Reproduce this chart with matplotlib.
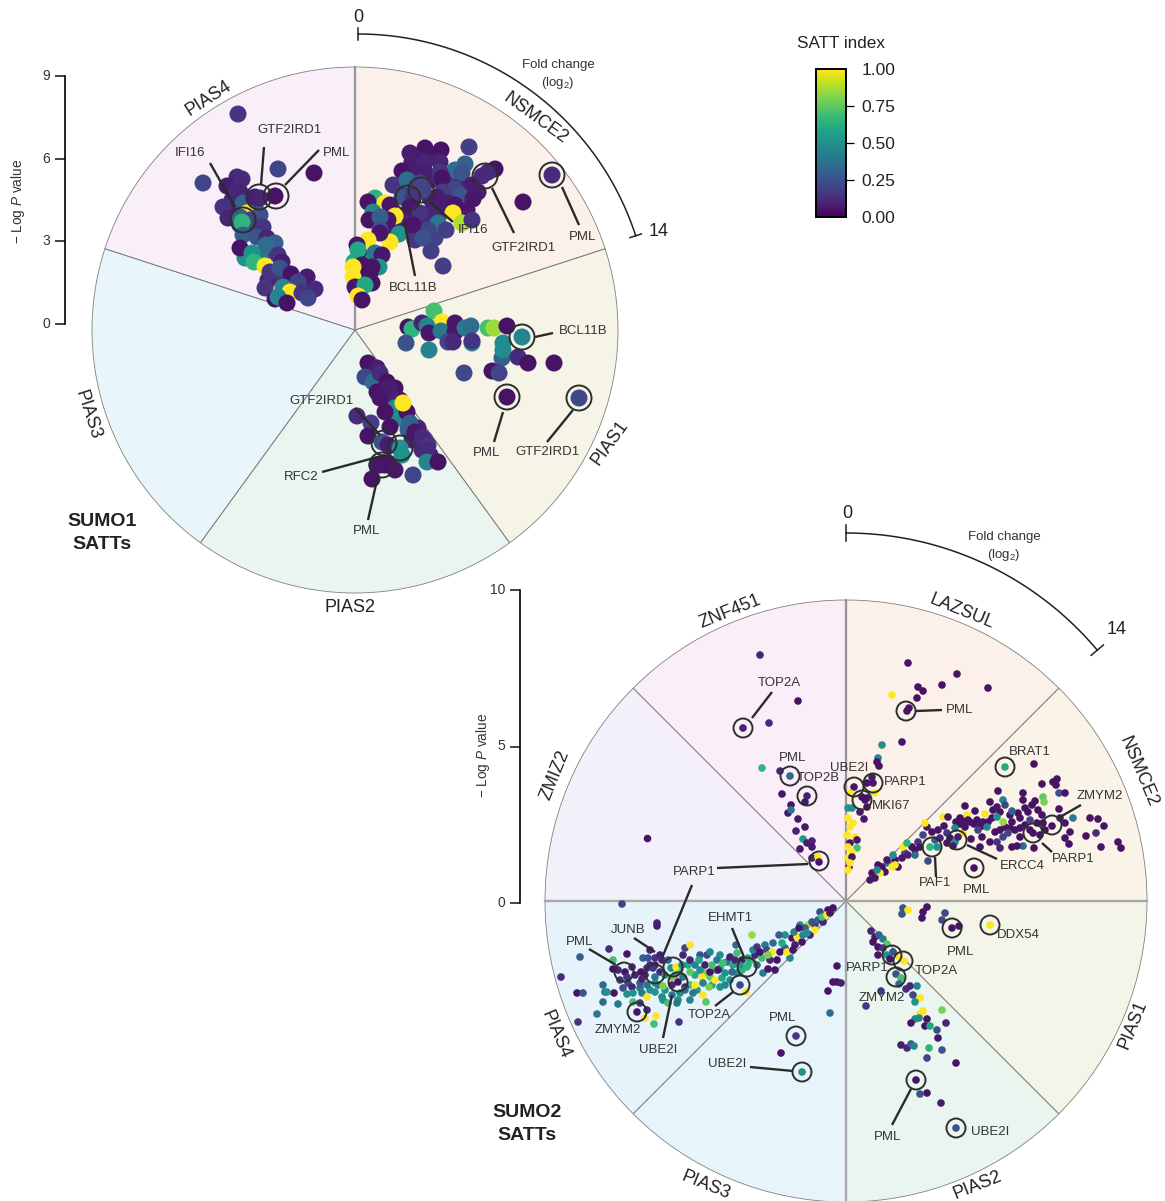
import numpy as np
import matplotlib
matplotlib.use('Agg')
import matplotlib.pyplot as plt
from matplotlib.patches import Wedge, Circle
from matplotlib.cm import ScalarMappable
from matplotlib.colors import Normalize

plt.rcParams['font.family'] = ['Liberation Sans', 'DejaVu Sans']
plt.rcParams['mathtext.fontset'] = 'custom'
plt.rcParams['mathtext.it'] = 'Liberation Sans:italic'
plt.rcParams['mathtext.rm'] = 'Liberation Sans'

# points are (x, y, SATT index) in its own pixel grid
sumo1_pias4 = [(232,200,.1),(248,200,.3),(255,207,.2),(235,212,.08),(252,230,.25),(240,225,.3),(272,250,.35),(262,255,.2),
    (245,258,.5),(260,258,.4),(275,275,.15),(288,283,.1),(300,287,.1),(268,280,.1),
    (238,114,.15),(203,183,.2),(278,169,.2),(314,173,.05),(237,177,.12),(242,179,.12),(227,186,.08),
    (237,190,.12),(240,192,.1),(223,207,.15),(228,218,.1),(243,203,.3),(255,197,.08),(260,198,.1),(275,196,.05),
    (247,213,1),(260,215,.25),(240,217,.3),(250,220,.2),(242,222,.65),(263,227,.15),(243,235,.3),(257,237,.25),
    (267,238,.1),(240,248,.05),(275,243,.3),(266,245,.35),(278,255,.15),(252,253,.5),(254,262,.65),(282,262,.08),
    (265,266,1),(270,272,.15),(280,268,.25),(291,274,.05),(307,277,.08),(298,282,.2),(265,288,.15),(315,289,.12),
    (283,287,.45),(290,292,1),(302,293,.15),(308,298,.2),(275,299,.05),(278,297,.45),(287,303,.05)]
sumo1_nsmce2 = [(430,155,.08),(415,170,.08),(432,180,.12),(447,180,.12),(452,180,.15),(400,188,.1),(412,190,.1),(430,198,.1),
    (445,200,.1),(462,185,.1),(470,192,.08),(478,192,.08),(432,210,.1),(442,212,.08),(405,215,.1),(430,222,.12),
    (418,222,.12),(437,215,.1),(405,230,.08),(393,228,.08),(415,240,.15),(435,238,.2),(358,258,.05),(365,258,.05),
    (373,260,.5),(354,262,.6),(355,272,.05),(365,275,1),(360,280,.05),(372,283,.05),(357,290,1),
    (469,147,.18),(410,153,.08),(425,148,.05),(441,150,.05),(418,160,.08),(412,162,.08),(425,162,.1),
    (440,162,.1),(465,164,.3),(455,170,.35),(462,173,.25),(495,169,.05),(488,172,.12),(482,176,.12),(402,171,.05),
    (425,172,.08),(440,172,.15),(442,178,.05),(393,185,.15),(407,180,.35),(420,183,.2),(472,185,.08),(455,189,.2),
    (460,195,.25),(443,192,.18),(437,197,.08),(423,190,.2),(402,197,.25),(413,197,.15),(473,199,.06),(375,198,.65),
    (368,202,.05),(385,203,1),(390,205,.06),(373,212,.45),(410,207,.06),(447,203,.08),(455,205,.06),(467,210,.06),
    (420,213,.15),(453,213,1),(395,216,1),(388,220,.06),(369,220,.05),(380,217,.3),(462,223,.88),(472,220,.15),
    (523,202,.05),(438,223,.4),(446,230,.18),(428,230,.2),(413,225,.06),(423,238,.25),(380,230,.25),(399,234,.5),
    (390,242,1),(380,233,.06),(368,240,1),(357,245,.06),(375,253,.4),(358,250,.6),(382,255,.06),(431,251,.18),
    (443,266,.18),(379,267,.5),(362,265,.05),(353,267,1),(372,267,.05),(353,277,1),(370,273,.05),(355,287,.06),
    (365,285,.6),(358,296,1),(362,300,.05),(552,175,.12)]
sumo1_pias1 = [(434,311,.7),(442,322,1),(408,327,.05),(412,329,.65),(422,323,.1),(427,326,.45),(429,333,.06),
    (441,331,.4),(455,323,.06),(455,332,.06),(465,328,.4),(471,326,.35),(472,343,.45),(472,341,.15),(448,342,.2),
    (453,342,.12),(406,343,.25),(429,350,.45),(488,328,.7),(494,328,.85),(507,326,.05),(522,337,.45),(502,358,.3),
    (503,343,.48),(503,350,.48),(518,357,.12),(528,363,.05),(554,363,.05),(464,373,.22),(492,371,.05),(499,373,.2),
    (507,397,.05),(579,398,.22)]
sumo1_pias2 = [(372,372,.06),(384,387,.06),(395,395,.1),(400,400,.05),(392,405,.05),(405,420,.08),(413,430,.08),(418,440,.1),
    (422,450,.12),(430,455,.08),(425,440,.2),(395,388,.05),(376,380,.06),(385,398,.05),(398,418,.45),(408,430,.3),
    (412,440,.1),(418,428,.1),(380,465,.05),(388,463,.05),(392,465,.05),
    (368,363,.05),(377,368,.08),(365,377,.22),(373,382,.35),(380,373,.12),(387,382,.05),(377,392,.05),
    (390,395,.1),(389,387,.08),(380,398,.06),(395,408,.5),(407,412,.05),(403,403,1),(385,412,.05),(357,416,.12),
    (371,423,.18),(390,427,.05),(410,423,.3),(415,432,.06),(368,436,.05),(422,437,.12),(428,445,.15),(427,450,.12),
    (382,442,.25),(388,445,.08),(400,448,.5),(402,455,.5),(427,462,.45),(438,462,.05),(385,465,.05),(377,465,.06),
    (395,470,.06),(413,475,.2),(372,479,.05)]

sumo2_znf451 = [(760,655,.1),(798,701,.05),(769,723,.12),(743,728,.1),(762,768,.65),(780,771,.1),(790,776,.32),
    (782,794,.06),(807,796,.1),(805,802,.06),(791,805,.06),(788,813,.06),(791,810,.4),(798,819,.06),(805,827,.06),
    (796,831,.1),(803,839,.55),(807,843,.08),(812,841,.1),(812,847,.06),(800,849,.06),(812,858,.1),(818,857,1),
    (819,862,.06)]
sumo2_zmiz2 = [(647,838,.05)]
sumo2_lazsul = [(908,663,.05),(957,674,.05),(988,688,.05),(918,687,.05),(923,691,.05),(942,685,.05),(892,695,1),
    (917,698,.05),(909,708,.05),(907,711,.05),(882,745,.5),(902,742,.05),(878,758,.45),(877,762,.05),(879,766,.05),
    (872,777,.08),(867,783,.06),(873,783,.06),(854,787,.06),(875,793,1),(850,793,1),(865,800,.05),(862,797,.05),
    (867,798,.05),(867,807,.05),(860,812,.06),(864,819,.06),(848,808,.5),(852,808,.5),(848,818,1),(853,823,1),
    (850,827,1),(847,835,1),(855,837,1),(857,840,.06),(850,843,.06),(857,848,.7),(848,847,1),(852,852,1),
    (848,858,1),(852,857,.06),(849,867,.06),(850,863,1),(848,870,1)]
sumo2_nsmce2 = [(956,822,.05),(960,824,.05),(965,821,.05),(970,822,.05),(974,824,.05),(978,823,.05),(982,826,.05),(988,822,.05),
    (992,818,.05),(1000,830,.05),(1005,827,.05),(1010,828,.05),(1015,830,.05),(1025,825,.05),(1020,828,.05),
    (1028,812,.05),(1018,813,.05),(1010,815,.05),(1000,812,.05),(993,810,.05),(1030,830,.05),(1040,835,.05),
    (1045,830,.05),(1042,815,.05),(1038,810,.05),(950,838,.05),(944,826,.05),(932,832,.05),(918,842,.15),
    (912,847,.05),(905,853,.2),(895,860,.05),(888,863,.4),(885,872,.05),(872,873,.05),(878,865,.05),
    (1005,767,.6),(1034,764,.05),(1042,784,.05),(1053,782,.05),(1057,779,.05),(1056,785,.05),(998,791,.06),
    (1023,793,.05),(1059,793,.25),(1065,793,.05),(1043,797,.75),(1044,802,.8),(1003,800,.45),(990,802,.05),
    (1023,800,.05),(1035,801,.05),(965,806,.05),(997,807,.06),(1005,805,.2),(1012,811,.3),(1032,805,.05),
    (1025,808,.05),(1059,809,.05),(1073,818,.4),(1090,818,.05),(1098,819,.05),(1104,826,.05),(975,811,.05),
    (967,815,1),(985,814,1),(943,817,1),(948,817,.05),(960,818,.05),(968,820,.05),(977,820,.05),(983,822,.05),
    (997,817,.5),(1003,822,.85),(1012,822,.05),(1020,818,.05),(1030,820,.2),(1037,823,.05),(1043,823,.05),
    (1052,826,.05),(1060,818,.06),(1065,823,.06),(1070,832,.05),(1065,838,.05),(1069,844,.05),(1086,836,.05),
    (1096,833,.12),(1101,847,.05),(1118,842,.05),(1121,848,.05),(1034,848,.05),(1023,846,.35),(1017,846,.05),
    (1012,847,.05),(1033,833,.05),(1020,837,.05),(1008,833,.2),(1003,837,.2),(997,842,.15),(1000,848,.1),
    (995,832,.05),(990,842,.05),(980,847,.05),(982,837,.05),(971,839,.05),(963,833,1),(955,842,.5),(958,837,.08),
    (947,843,.06),(953,846,.06),(978,830,.2),(987,827,.45),(955,828,.45),(965,827,.05),(938,830,.05),(927,827,.06),
    (925,823,1),(923,835,.2),(947,833,.15),(937,847,.5),(930,847,.65),(935,840,.3),(928,861,.22),(940,838,.1),
    (920,847,.05),(915,850,.05),(903,847,1),(907,843,.65),(908,855,.1),(915,855,.35),(902,858,.06),(893,855,.5),
    (898,867,.05),(892,867,1),(895,865,1),(882,867,.05),(887,860,.06),(880,873,1),(877,870,.45),(875,878,.06),
    (870,880,.06),(974,868,.05)]
sumo2_pias1 = [(903,908,.25),(902,914,.25),(908,910,1),(927,907,.05),(923,912,.05),(922,918,.05),(945,913,.22),
    (942,920,.22),(952,928,.05),(959,926,.05),(990,925,1)]
sumo2_pias2 = [(871,931,.1),(875,937,.06),(879,935,.3),(883,939,.4),(873,942,.05),(878,947,.05),(887,944,.75),
    (883,948,.15),(878,955,.06),(893,952,.25),(887,955,.5),(890,959,.05),(899,957,1),(904,961,1),(896,974,.25),
    (901,978,.7),(899,984,.35),(917,986,.45),(910,986,.1),(906,989,.12),(881,991,.15),(866,1006,.15),(913,995,.22),
    (920,998,1),(915,1002,.5),(942,1010,.8),(923,1011,1),(920,1014,1),(927,1019,.05),(919,1018,.45),(915,1019,.45),
    (911,1023,.05),(946,1023,.1),(925,1026,.05),(930,1026,.6),(937,1030,.25),(938,1038,.05),(901,1045,.08),
    (907,1048,.1),(911,1044,.3),(914,1046,.45),(929,1048,.65),(942,1050,.25),(927,1058,.2),(956,1063,.05),
    (916,1080,.05),(927,1093,.05),(920,1094,.25),(941,1103,.08),(956,1128,.25)]
sumo2_pias3 = [(837,966,.05),(833,982,.05),(837,982,.05),(841,983,.08),(828,991,.05),(830,1013,.35),(796,1036,.15),
    (781,1053,.05),(802,1072,.5)]
sumo2_pias4 = [(622,904,.2),(657,923,.1),(657,926,.08),(561,977,.12),(580,957,.3),(609,949,.12),(627,954,.05),
    (577,993,.05),(583,993,.25),(603,985,.35),(605,992,.4),(614,993,.05),(603,1002,.35),(618,1004,.4),(597,1014,.4),
    (578,1022,.15),(679,1022,.15),(656,1016,1),(654,1024,.7),(645,1018,1),(647,1010,.12),(637,1012,.05),
    (650,965,.1),(660,972,.1),(665,975,.5),(675,975,.7),(680,970,.7),(688,965,.6),(695,965,.45),(695,975,.6),(705,973,.8),
    (715,970,.7),(720,968,.6),(727,962,.4),(733,965,.6),(737,973,.5),(742,970,.65),(752,960,.7),(755,955,.1),
    (658,985,.4),(665,990,.5),(672,977,.8),(690,985,.7),(697,990,.5),(712,985,.6),(725,985,.45),(730,980,.5),
    (735,960,.1),(650,990,.5),(640,988,.4),(628,983,.2),(620,980,.15),(618,970,.1),(635,975,.1),(645,975,.08),
    (655,965,.1),(678,1000,.5),(690,1000,.45),(770,960,.1),(765,945,.4),(785,948,.3),(795,945,.08),(790,958,.45),
    (775,970,.05),(800,925,.5),(808,925,.9),(815,925,.15),(820,912,.2),(828,910,.05),(833,908,.05),(785,935,.5),
    (623,988,.25),(632,987,.1),(640,983,.3),(647,985,.4),(655,983,.5),(663,986,.8),(672,985,.1),(685,987,.1),
    (695,985,1),(702,977,1),(703,983,.45),(710,977,.75),(715,980,1),(722,978,.6),(725,973,.5),(732,972,.35),
    (718,970,.05),(710,972,.05),(700,970,.5),(690,972,.75),(683,977,.4),(693,993,.4),(703,995,1),(706,1002,.75),
    (709,987,.8),(720,987,.5),(662,997,.45),(663,1000,.5),(655,992,.5),(633,993,.5),(627,994,.5),(642,993,.4),
    (647,997,1),(668,1003,.7),(677,1003,.4),(672,995,.4),(680,993,.5),(685,990,.35),(746,992,1),(655,977,.4),
    (640,1003,.15),(633,1002,.7),(607,992,.5),(613,960,.7),(613,969,.05),(625,972,.05),(627,977,.15),(632,967,.1),
    (641,972,.05),(642,979,.1),(643,958,.3),(648,958,.25),(650,950,.08),(655,958,.15),(660,955,.08),(647,968,.12),
    (653,968,.15),(662,960,.1),(668,960,.3),(671,968,.5),(676,967,1),(683,955,.1),(685,948,.2),(690,945,1),
    (682,965,.5),(690,960,.1),(700,955,.25),(707,955,.2),(710,952,.45),(699,960,.6),(705,965,.08),(712,965,.7),
    (720,955,.5),(717,960,.4),(723,963,.7),(730,957,.08),(736,945,.35),(737,953,.7),(742,960,.05),(752,935,.85),
    (753,950,.45),(757,947,.15),(748,958,.6),(740,965,.5),(748,965,.65),(747,967,.65),(762,958,.7),(760,952,.05),
    (767,950,.2),(772,952,1),(773,943,.35),(782,943,.6),(779,935,.3),(768,955,.8),(763,973,.4),(757,965,.35),
    (768,969,.05),(777,960,.05),(780,952,.05),(787,952,1),(793,950,.05),(792,938,.05),(797,937,1),(794,932,.45),
    (802,942,.05),(803,935,.45),(805,928,.3),(810,935,.1),(815,930,1),(812,922,.25),(818,920,.3),(823,922,.1),
    (822,917,.7),(827,915,1),(830,913,.05),(799,928,.05),(807,933,.5),(740,985,.2),(678,982,.05)]

# wheels: names go clockwise starting from straight up
sumo1_sectors = ['NSMCE2', 'PIAS1', 'PIAS2', 'PIAS3', 'PIAS4']
sumo1_colors = ['#fcf0ea', '#f6f4e7', '#e9f5ee', '#e8f5fb', '#f9eff8']
sumo2_sectors = ['LAZSUL', 'NSMCE2', 'PIAS1', 'PIAS2', 'PIAS3', 'PIAS4', 'ZMIZ2', 'ZNF451']
sumo2_colors = ['#fcf0ea', '#faf3e8', '#f4f5e8', '#e9f5ee', '#e7f5fb', '#e6f3fb', '#f3f0f9', '#faeff9']

sumo1_ticks = [0, 3, 6, 9]
sumo2_ticks = [0, 5, 10]
fold_ticks = [0, 14]
satt_ticks = [0, 0.25, 0.5, 0.75, 1]

# labels: text, x, y of text, then callout line (or None)
sumo1_labels = [('IFI16',190,153,(210,163,235,207)),('GTF2IRD1',290,130,(264,147,261,185)),('PML',337,153,(319,150,285,185)),
    ('GTF2IRD1',523,248,(492,188,514,233)),('PML',583,237,(562,187,579,225)),('IFI16',473,230,(430,202,453,222)),
    ('BCL11B',413,288,(404,220,415,276)),('BCL11B',583,331,(535,337,553,333)),('PML',487,453,(503,412,494,442)),
    ('GTF2IRD1',547,452,(573,410,547,442)),('GTF2IRD1',322,401,(355,408,380,435)),('RFC2',301,477,(322,472,385,455)),
    ('PML',367,531,(377,480,368,520))]
sumo1_rings = [(243,220),(259,197),(276,196),(485,176),(408,198),(421,190),(552,175),(522,337),(507,397),(579,398),
    (400,448),(384,443),(382,465)]
sumo2_labels = [('TOP2A',779,683,(772,692,752,718)),('PML',793,758,None),('TOP2B',818,778,None),('UBE2I',849,768,None),
    ('PARP1',905,782,None),('MKI67',891,806,None),('PML',960,710,(916,711,942,710)),('BRAT1',1030,752,None),
    ('ZMYM2',1100,796,(1060,817,1081,805)),('PARP1',1073,859,(1042,843,1052,852)),('ERCC4',1022,866,(967,845,997,859)),
    ('PAF1',935,883,(935,857,936,877)),('PML',977,890,None),('PARP1',694,872,(717,868,808,864)),('DDX54',1018,935,None),
    ('PML',961,952,None),('PARP1',867,968,None),('TOP2A',936,971,None),('ZMYM2',882,998,None),('PML',888,1137,(911,1089,892,1125)),
    ('UBE2I',990,1132,None),('PML',783,1018,None),('UBE2I',727,1064,(750,1067,793,1071)),('PML',580,942,(589,949,616,965)),
    ('JUNB',628,930,(634,938,655,952)),('EHMT1',730,918,(732,928,744,957)),('TOP2A',709,1015,(715,1006,733,992)),
    ('ZMYM2',618,1030,None),('UBE2I',658,1050,(663,1038,672,995))]
sumo2_extra_lines = [(692,885,662,958)]
sumo2_rings = [(743,728),(790,776),(807,796),(819,861),(906,711),(854,787),(873,783),(862,800),(1005,767),(1052,825),
    (1033,833),(957,840),(932,847),(974,868),(952,928),(990,925),(892,955),(903,961),(896,977),(916,1080),(956,1128),
    (796,1036),(802,1072),(624,972),(655,974),(673,967),(678,982),(637,1012),(747,967),(740,985)]

W, H = 1165, 1201
fig = plt.figure(figsize=(W / 100, H / 100), dpi=100)
ax = fig.add_axes([0, 0, 1, 1])
ax.set_xlim(0, W)
ax.set_ylim(H, 0)
ax.axis('off')


def draw_wheel(cx, cy, radius, names, colors, strong):
    # y axis is flipped, so theta runs clockwise on screen and 270 is straight up
    step = 360 / len(names)
    for i, name in enumerate(names):
        t0 = 270 + i * step
        ax.add_patch(Wedge((cx, cy), radius, t0, t0 + step, fc=colors[i], ec='none', zorder=1))
        ax.add_patch(Wedge((cx, cy), radius, t0, t0 + step, fc='none', ec='#808080', lw=0.6, zorder=2))
        a = np.deg2rad(t0)
        if (abs(np.sin(a)) > 0.99 and np.sin(a) < 0) or (strong == 2 and (abs(np.sin(a)) > 0.99 or abs(np.cos(a)) > 0.99)):
            ax.plot([cx, cx + radius * np.cos(a)], [cy, cy + radius * np.sin(a)],
                    color='#a8a8a8', lw=1.7, zorder=2)


def draw_points(groups, size):
    for pts in groups:
        x, y, s = np.array(pts).T
        ax.scatter(x, y, c=s, s=size, cmap='viridis', vmin=0, vmax=1, linewidths=0, zorder=3)


def draw_rings(rings, r):
    for x, y in rings:
        ax.add_patch(Circle((x, y), r, fc='none', ec='#2e2e2e', lw=1.4, zorder=4))


def draw_labels(labels, fs):
    for name, x, y, line in labels:
        ax.text(x, y, name, fontsize=fs, color='#333333', ha='center', va='center', zorder=6)
        if line is not None:
            ax.plot(line[0::2], line[1::2], color='#2a2a2a', lw=1.7, solid_capstyle='butt', zorder=5)


def draw_fold_arc(cx, cy, radius, span, tick_len):
    fc = np.linspace(fold_ticks[0], fold_ticks[-1], 80)
    th = np.deg2rad(270 + fc / fold_ticks[-1] * span)
    ax.plot(cx + radius * np.cos(th), cy + radius * np.sin(th), color='#222222', lw=1.1, zorder=3)
    for t in (th[0], th[-1]):
        ax.plot([cx + (radius - tick_len) * np.cos(t), cx + (radius + tick_len) * np.cos(t)],
                [cy + (radius - tick_len) * np.sin(t), cy + (radius + tick_len) * np.sin(t)],
                color='#222222', lw=1.1, zorder=3)


def draw_logp_axis(x, ytop, ybot, ticks, label_x, label_y, fs):
    axis = fig.add_axes([(x - 20) / W, 1 - ybot / H, 20 / W, (ybot - ytop) / H])
    axis.patch.set_alpha(0)
    axis.set_xlim(0, 1)
    axis.set_ylim(ticks[0], ticks[-1])
    axis.set_xticks([])
    axis.set_yticks(ticks)
    for side in ('top', 'bottom', 'left'):
        axis.spines[side].set_visible(False)
    axis.spines['right'].set_linewidth(1.2)
    axis.spines['right'].set_bounds(ticks[0], ticks[-1])
    axis.tick_params(axis='y', left=False, right=False, labelleft=False)
    for t in ticks:
        axis.plot([0.5, 1], [t, t], color='#222222', lw=1.2, clip_on=False, solid_capstyle='butt')
        axis.text(0.25, t, str(t), ha='right', va='center', fontsize=fs, color='#333333')
    ax.text(label_x, label_y, r'$-$ Log $\mathit{P}$ value', rotation=90, fontsize=9.8,
            color='#333333', ha='center', va='center')


draw_wheel(355, 330, 263, sumo1_sectors, sumo1_colors, 1)
draw_wheel(846, 901, 301, sumo2_sectors, sumo2_colors, 2)

draw_points([sumo1_pias1, sumo1_pias2, sumo1_nsmce2, sumo1_pias4], 150)
draw_points([sumo2_znf451, sumo2_zmiz2, sumo2_lazsul, sumo2_nsmce2, sumo2_pias1, sumo2_pias2, sumo2_pias3, sumo2_pias4], 30)

draw_rings(sumo1_rings, 12.5)
draw_rings(sumo2_rings, 9.5)
draw_labels(sumo1_labels, 9.5)
draw_labels(sumo2_labels, 9.5)
for line in sumo2_extra_lines:
    ax.plot(line[0::2], line[1::2], color='#2a2a2a', lw=1.7, solid_capstyle='butt', zorder=5)

sector_text = [('PIAS4',208,98,33),('NSMCE2',535,118,-36),('PIAS1',610,443,54),('PIAS2',350,608,0),('PIAS3',88,415,-72),
    ('ZNF451',730,612,22),('LAZSUL',962,612,-22),('NSMCE2',1138,772,-67),('PIAS1',1133,1025,68),('PIAS2',977,1185,22),
    ('PIAS3',706,1185,-22),('PIAS4',556,1035,-67),('ZMIZ2',555,775,68)]
for name, x, y, rot in sector_text:
    ax.text(x, y, name, rotation=rot, rotation_mode='anchor', fontsize=13, color='#222222', ha='center', va='center')

ax.text(102, 533, 'SUMO1\nSATTs', fontsize=14, fontweight='bold', color='#222222', ha='center', va='center', linespacing=1.4)
ax.text(527, 1124, 'SUMO2\nSATTs', fontsize=14, fontweight='bold', color='#222222', ha='center', va='center', linespacing=1.4)

draw_fold_arc(358, 326, 292, 72, 6)
draw_fold_arc(846, 861, 328, 50, 8)
for x, y, s in [(358, 17, '0'), (659, 232, '14'), (847, 513, '0'), (1117, 629, '14')]:
    ax.text(x, y, s, fontsize=13, color='#222222', ha='center', va='center')
for x, y in [(558, 65), (1004, 537)]:
    ax.text(x, y, 'Fold change', fontsize=9.5, color='#333333', ha='center', va='center')
    ax.text(x, y + 18, r'(log$_{2}$)', fontsize=9.5, color='#333333', ha='center', va='center')

draw_logp_axis(65, 76, 324, sumo1_ticks, 18, 201, 10)
draw_logp_axis(520, 590, 903, sumo2_ticks, 483, 755, 10)

cax = fig.add_axes([816 / W, 1 - 217 / H, 30 / W, 148 / H])
cb = fig.colorbar(ScalarMappable(Normalize(0, 1), 'viridis'), cax=cax, ticks=satt_ticks)
cb.ax.set_yticklabels(['0.00', '0.25', '0.50', '0.75', '1.00'], fontsize=12.5, color='#222222')
cb.ax.tick_params(length=6, width=0.9, pad=5)
end_ticks = cb.ax.yaxis.get_major_ticks()
end_ticks[0].tick2line.set_visible(False)
end_ticks[-1].tick2line.set_visible(False)
cb.outline.set_linewidth(1.4)
ax.text(841, 44, 'SATT index', fontsize=12.3, color='#222222', ha='center', va='center')

fig.savefig('out.png', dpi=100)
